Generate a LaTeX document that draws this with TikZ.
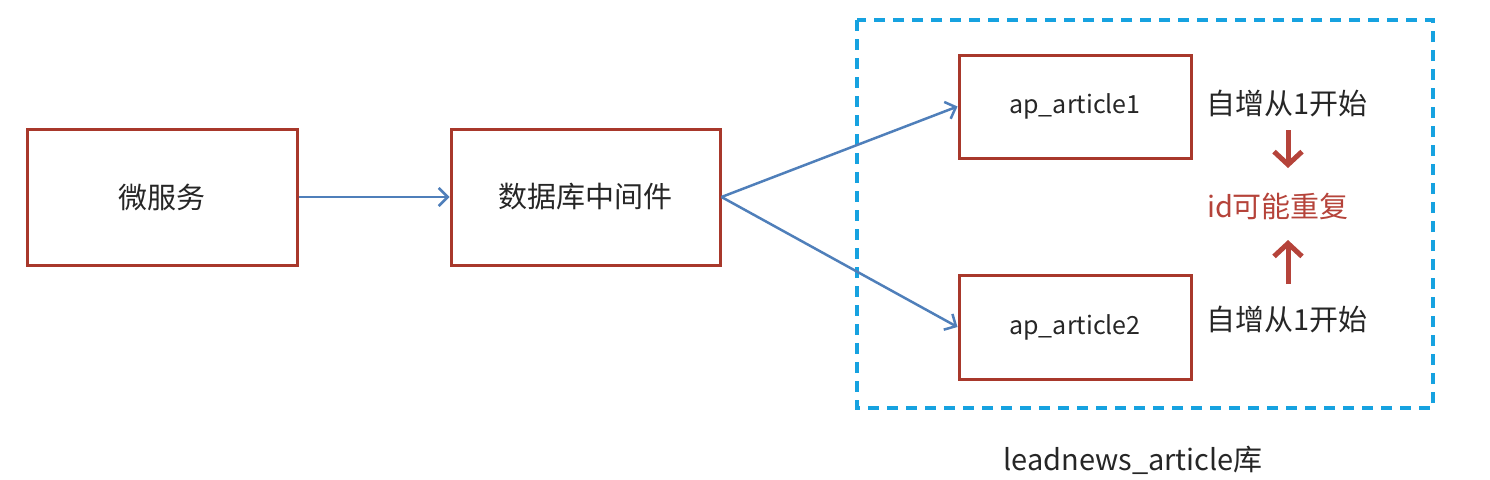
\documentclass[tikz,border=0pt]{standalone}
\usepackage{fontspec}
\setmainfont{Noto Sans CJK SC}
\usetikzlibrary{arrows.meta}
\definecolor{boxred}{HTML}{A8382B}
\definecolor{arrblue}{HTML}{4F7FBA}
\definecolor{dashblue}{HTML}{16A2E0}
\definecolor{txtred}{HTML}{B5433A}
\definecolor{txtgray}{HTML}{262626}
\tikzset{
  box/.style={draw=boxred, line width=3pt, rectangle, inner sep=0pt, text=txtgray},
  bigtext/.style={font=\fontsize{29}{34}\selectfont},
  smalltext/.style={font=\fontsize{25}{30}\selectfont},
  conn/.style={draw=arrblue, line width=2.5pt, -{Straight Barb[length=9pt,width=18pt,line width=2.5pt]}},
  redarr/.style={draw=txtred, line width=5pt, -{Straight Barb[length=13pt,width=28pt,line width=5pt]}},
}
\begin{document}
\begin{tikzpicture}[x=1pt,y=-1pt]
\useasboundingbox (0,0) rectangle (1490,479);
\node[box, bigtext, minimum width=270pt, minimum height=136pt] (ms) at (162,197) {微服务};
\node[box, bigtext, minimum width=269pt, minimum height=136pt] (mw) at (585.5,197) {数据库中间件};
\node[box, smalltext, minimum width=232pt, minimum height=103pt] (a1) at (1075,106.5) {ap\_article1};
\node[box, smalltext, minimum width=232pt, minimum height=104pt] (a2) at (1075,327) {ap\_article2};
\draw[dashblue, line width=3.5pt, dash pattern=on 11pt off 8pt] (857,20) rectangle (1433,408);
\node[bigtext, text=txtgray] (t1) at (1287,104) {自增从1开始};
\node[bigtext, text=txtgray] (t2) at (1287,320) {自增从1开始};
\node[bigtext, text=txtred] (id) at (1278,206) {id可能重复};
\node[bigtext, text=txtgray] (lib) at (1133,460) {leadnews\_article库};
\draw[conn] (ms.east) -- (mw.west);
\draw[conn] (mw.east) -- (a1.west);
\draw[conn] (mw.east) -- (a2.west);
\coordinate (d1s) at (1288,130);
\coordinate (d1e) at (1288,168);
\coordinate (u1s) at (1288,284);
\coordinate (u1e) at (1288,240);
\draw[redarr] (d1s) -- (d1e);
\draw[redarr] (u1s) -- (u1e);
\end{tikzpicture}
\end{document}
